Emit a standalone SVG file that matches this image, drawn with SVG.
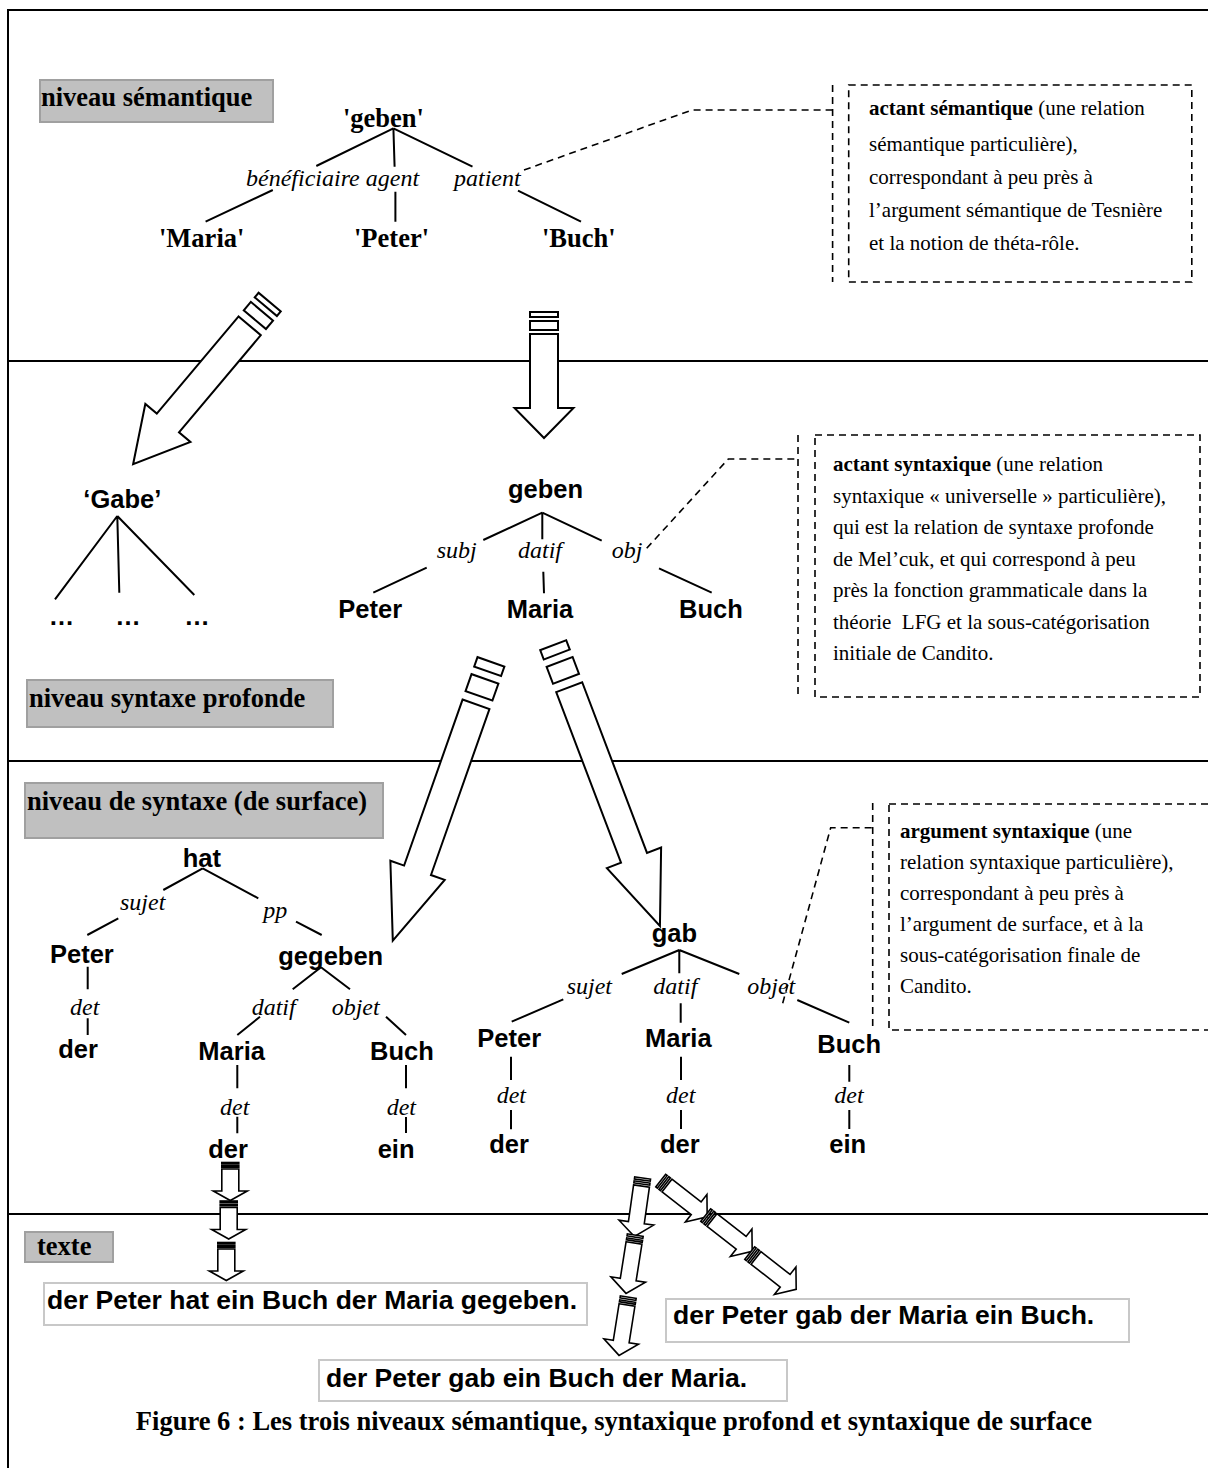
<svg xmlns="http://www.w3.org/2000/svg" width="1208" height="1468" viewBox="0 0 1208 1468">
<defs>
<style>
.fr{stroke:#000;stroke-width:2;fill:none}
.ln{stroke:#000;stroke-width:2;fill:none}
.dash{stroke:#000;stroke-width:1.6;fill:none;stroke-dasharray:7 5}
.arr{fill:#fff;stroke:#000;stroke-width:2}
.sa{fill:#fff;stroke:#000;stroke-width:1.6}
.gbox{fill:#c0c0c0;stroke:#a0a0a0;stroke-width:2}
.tbox{fill:#fff;stroke:#c8c8c8;stroke-width:2}
.hd{font-family:"Liberation Serif","Times New Roman",serif;font-weight:bold;font-size:26.5px}
.lab{font-family:"Liberation Serif","Times New Roman",serif;font-style:italic;font-size:24px}
.nd{font-family:"Liberation Sans",Arial,sans-serif;font-weight:bold;font-size:25.5px}
.note{font-family:"Liberation Serif","Times New Roman",serif;font-size:21px;white-space:pre}
.sent{font-family:"Liberation Sans",Arial,sans-serif;font-weight:bold;font-size:26.5px}
</style>
<g id="sarrL">
<path class="sa" d="M-8.5,0 H8.5 V22 H17 L0,31.5 L-17,22 H-8.5 Z"/>
<rect class="sa" x="-8.5" y="-6.5" width="17" height="1.5"/>
<rect class="sa" x="-8.5" y="-3.2" width="17" height="1.5"/>
</g>
<g id="sarrR">
<path class="sa" d="M-8,0 H8 V37 H17.5 L0,51 L-17.5,37 H-8 Z"/>
<rect class="sa" x="-8" y="-8" width="16" height="2"/>
<rect class="sa" x="-8" y="-4" width="16" height="2"/>
</g>
</defs>

<g id="frame">
<path class="fr" d="M8,1468 V10 H1208 M8,361 H1208 M8,761 H1208 M8,1214 H1208"/>
</g>

<g id="level-labels">
<g id="lvl-sem"><rect class="gbox" x="40" y="80" width="233" height="42"/><text class="hd" x="41" y="106">niveau sémantique</text></g>
<g id="lvl-deep"><rect class="gbox" x="27" y="680" width="306" height="47"/><text class="hd" x="29" y="707">niveau syntaxe profonde</text></g>
<g id="lvl-surf"><rect class="gbox" x="25" y="783" width="358" height="55"/><text class="hd" x="27" y="810">niveau de syntaxe (de surface)</text></g>
<g id="lvl-text"><rect class="gbox" x="25" y="1232" width="88" height="30"/><text class="hd" x="37" y="1255">texte</text></g>
</g>

<g id="connectors">
<path class="ln" d="M393.4,128.3 L316.3,166 M393.4,128.3 L394.6,166.7 M393.4,128.3 L472.5,166.7 M272.8,190 L205.6,221.7 M395.4,191.7 L395.4,221.7 M518,190.7 L581,221.7"/>
<path class="ln" d="M117.3,516 L55,599.3 M117.3,516 L119.3,592.7 M117.3,516 L194.3,595"/>
<path class="ln" d="M542.3,512.7 L483.3,540 M542.3,512.7 L542.3,539.3 M542.3,512.7 L601.7,540.7 M426.7,567.7 L373.3,592.7 M543.3,571.7 L544,593.3 M659,568.3 L711.7,592.7"/>
<path class="ln" d="M202.7,868.3 L163.3,890 M202.7,868.3 L258.3,898.3 M118.3,918.3 L87.3,935 M296,921.7 L321.7,935 M87.7,966.7 V989.3 M87.7,1018.3 V1035 M321,967.3 L292.7,989.3 M321,967.3 L350,989.3 M260,1016.7 L237.3,1035 M386,1016.7 L406,1035 M237.3,1065 V1088.3 M237.3,1116.7 V1133.3 M406,1065 V1088.3 M406,1117 V1133"/>
<path class="ln" d="M679.3,950 L621.7,974 M679.3,950 L679.3,973.3 M679.3,950 L739.3,974 M563.3,999.3 L511.7,1021.7 M680.7,1003.3 V1022.7 M797.3,1000 L849.3,1022.7 M511,1056.7 V1080 M511,1110 V1129.3 M681,1056.7 V1080 M681,1110 V1129 M849.3,1065 V1081.7 M849.3,1110 V1129"/>

<text class="lab" x="246" y="186">bénéficiaire agent</text>
<text class="lab" x="454" y="186">patient</text>
<text class="lab" x="436.7" y="558">subj</text>
<text class="lab" x="518" y="558">datif</text>
<text class="lab" x="611.7" y="558">obj</text>
<text class="lab" x="120" y="910">sujet</text>
<text class="lab" x="263.3" y="918">pp</text>
<text class="lab" x="70" y="1015">det</text>
<text class="lab" x="251.7" y="1015">datif</text>
<text class="lab" x="331.7" y="1015">objet</text>
<text class="lab" x="220" y="1115">det</text>
<text class="lab" x="386.7" y="1115">det</text>
<text class="lab" x="566.7" y="994">sujet</text>
<text class="lab" x="653.3" y="994">datif</text>
<text class="lab" x="747.3" y="994">objet</text>
<text class="lab" x="496.7" y="1103.3">det</text>
<text class="lab" x="666" y="1103.3">det</text>
<text class="lab" x="834.3" y="1103.3">det</text>

<path class="dash" d="M524,170 L692,110 H832.6 M832.6,85 V282"/>
<path class="dash" d="M646.7,548.3 L728.3,459 H798 M798,435 V697"/>
<path class="dash" d="M782.7,1003.3 L830.7,827.7 H872.7 M872.7,803 V1030"/>

<g transform="translate(249.7,325.8) rotate(40.1)">
<path class="arr" d="M-14.5,0 H14.5 V127 H29.5 L0,181 L-29.5,127 H-14.5 Z"/>
<rect class="arr" x="-14.5" y="-19" width="29" height="11"/>
<rect class="arr" x="-14.5" y="-31" width="29" height="6"/>
</g>
<g transform="translate(544,334)">
<path class="arr" d="M-14,0 H14 V74 H29.5 L0,104 L-29.5,74 H-14 Z"/>
<rect class="arr" x="-14" y="-13" width="28" height="9"/>
<rect class="arr" x="-14" y="-22" width="28" height="5"/>
</g>
<g transform="translate(476,704.3) rotate(19.4)">
<path class="arr" d="M-14.25,0 H14.25 V176 H28.8 L0,250.5 L-28.8,176 H-14.25 Z"/>
<rect class="arr" x="-14.25" y="-27" width="28.5" height="18"/>
<rect class="arr" x="-14.25" y="-45" width="28.5" height="10"/>
</g>
<g transform="translate(569.2,687.2) rotate(-20.8)">
<path class="arr" d="M-13.9,0 H13.9 V182.5 H29 L0,255.5 L-29,182.5 H-13.9 Z"/>
<rect class="arr" x="-13.9" y="-27" width="27.8" height="18"/>
<rect class="arr" x="-13.9" y="-45" width="27.8" height="10"/>
</g>

<use href="#sarrL" transform="translate(230.3,1169)"/>
<use href="#sarrL" transform="translate(228.7,1207.5)"/>
<use href="#sarrL" transform="translate(226.3,1249)"/>
<use href="#sarrR" transform="translate(641.5,1186) rotate(8)"/>
<use href="#sarrR" transform="translate(634,1243) rotate(9)"/>
<use href="#sarrR" transform="translate(627,1305) rotate(9)"/>
<use href="#sarrR" transform="translate(667,1185.5) rotate(-52)"/>
<use href="#sarrR" transform="translate(712,1220) rotate(-52)"/>
<use href="#sarrR" transform="translate(756,1258) rotate(-52)"/>
</g>

<g id="note-sem">
<rect class="dash" x="848.7" y="85" width="343.1" height="197"/>
<text class="note" x="869" y="115"><tspan font-weight="bold">actant sémantique</tspan> (une relation</text>
<text class="note" x="869" y="151">sémantique particulière),</text>
<text class="note" x="869" y="184">correspondant à peu près à</text>
<text class="note" x="869" y="217">l’argument sémantique de Tesnière</text>
<text class="note" x="869" y="250">et la notion de théta-rôle.</text>
</g>
<g id="note-deep">
<rect class="dash" x="815" y="435" width="385" height="262"/>
<text class="note" x="833" y="471"><tspan font-weight="bold">actant syntaxique</tspan> (une relation</text>
<text class="note" x="833" y="502.5">syntaxique « universelle » particulière),</text>
<text class="note" x="833" y="534">qui est la relation de syntaxe profonde</text>
<text class="note" x="833" y="565.5">de Mel’cuk, et qui correspond à peu</text>
<text class="note" x="833" y="597">près la fonction grammaticale dans la</text>
<text class="note" x="833" y="628.5">théorie  LFG et la sous-catégorisation</text>
<text class="note" x="833" y="660">initiale de Candito.</text>
</g>
<g id="note-surf">
<rect class="dash" x="889" y="804" width="330" height="226"/>
<text class="note" x="900" y="838"><tspan font-weight="bold">argument syntaxique</tspan> (une</text>
<text class="note" x="900" y="869">relation syntaxique particulière),</text>
<text class="note" x="900" y="900">correspondant à peu près à</text>
<text class="note" x="900" y="931">l’argument de surface, et à la</text>
<text class="note" x="900" y="962">sous-catégorisation finale de</text>
<text class="note" x="900" y="993">Candito.</text>
</g>

<g id="sem-geben"><text class="hd" x="343" y="127">'geben'</text></g>
<g id="sem-maria"><text class="hd" x="159" y="247">'Maria'</text></g>
<g id="sem-peter"><text class="hd" x="354" y="247">'Peter'</text></g>
<g id="sem-buch"><text class="hd" x="542" y="247">'Buch'</text></g>

<g id="deep-gabe"><text class="nd" x="122.3" y="508" text-anchor="middle">‘Gabe’</text></g>
<g id="deep-dots1"><text class="nd" x="61.5" y="625" text-anchor="middle">…</text></g>
<g id="deep-dots2"><text class="nd" x="128" y="625" text-anchor="middle">…</text></g>
<g id="deep-dots3"><text class="nd" x="197" y="625" text-anchor="middle">…</text></g>
<g id="deep-geben"><text class="nd" x="508" y="498">geben</text></g>
<g id="deep-peter"><text class="nd" x="338.3" y="618.3">Peter</text></g>
<g id="deep-maria"><text class="nd" x="506.7" y="618.3">Maria</text></g>
<g id="deep-buch"><text class="nd" x="679" y="618.3">Buch</text></g>

<g id="s1-hat"><text class="nd" x="182.7" y="867.3">hat</text></g>
<g id="s1-peter"><text class="nd" x="50" y="963.3">Peter</text></g>
<g id="s1-der1"><text class="nd" x="58.3" y="1058.3">der</text></g>
<g id="s1-gegeben"><text class="nd" x="278.3" y="965">gegeben</text></g>
<g id="s1-maria"><text class="nd" x="198.3" y="1060">Maria</text></g>
<g id="s1-buch"><text class="nd" x="370" y="1060">Buch</text></g>
<g id="s1-der2"><text class="nd" x="208.3" y="1158.3">der</text></g>
<g id="s1-ein"><text class="nd" x="377.7" y="1158">ein</text></g>

<g id="s2-gab"><text class="nd" x="651.7" y="941.7">gab</text></g>
<g id="s2-peter"><text class="nd" x="477.3" y="1046.7">Peter</text></g>
<g id="s2-maria"><text class="nd" x="645" y="1046.7">Maria</text></g>
<g id="s2-buch"><text class="nd" x="817.3" y="1053.3">Buch</text></g>
<g id="s2-der1"><text class="nd" x="489.3" y="1153.3">der</text></g>
<g id="s2-der2"><text class="nd" x="660" y="1153.3">der</text></g>
<g id="s2-ein"><text class="nd" x="829.3" y="1153.3">ein</text></g>

<g id="text1"><rect class="tbox" x="44" y="1283" width="543" height="42"/><text class="sent" x="47" y="1309">der Peter hat ein Buch der Maria gegeben.</text></g>
<g id="text2"><rect class="tbox" x="666" y="1299" width="463" height="43"/><text class="sent" x="673" y="1324">der Peter gab der Maria ein Buch.</text></g>
<g id="text3"><rect class="tbox" x="319" y="1360" width="468" height="41"/><text class="sent" x="326" y="1387">der Peter gab ein Buch der Maria.</text></g>

<g id="caption"><text class="hd" x="614" y="1430" text-anchor="middle">Figure 6 : Les trois niveaux sémantique, syntaxique profond et syntaxique de surface</text></g>
</svg>
